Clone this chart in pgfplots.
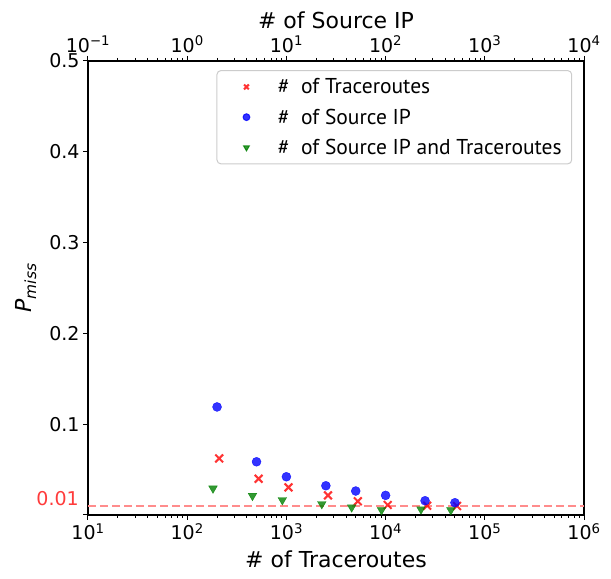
\documentclass[border=0pt]{standalone}
\usepackage{fontspec}
\setmainfont{DejaVu Sans}
\newfontfamily\legfont{PT Sans}
\usepackage{pgfplots}
\pgfplotsset{compat=1.18}

\definecolor{mred}{HTML}{FF0000}
\definecolor{mblue}{HTML}{0000FF}
\definecolor{mgreen}{HTML}{008000}
\definecolor{dashred}{HTML}{FF8C8C}
\definecolor{lblred}{HTML}{FF3B3B}

\newcommand{\ticksize}{\fontsize{19}{22}\selectfont}
\newcommand{\labsize}{\fontsize{22}{26}\selectfont}

\begin{document}
\begin{tikzpicture}
\pgfplotsset{
  every axis/.append style={
    scale only axis, width=496pt, height=454pt,
    axis line style={line width=1.1pt},
    tick align=outside,
    major tick length=5pt, minor tick length=3pt,
    every tick/.style={black, line width=1pt},
    tick label style={font=\ticksize},
    label style={font=\labsize},
  },
  legmark/.style={legend image code/.code={%
    \path (0pt,0pt) (50pt,0pt);
    \draw[mark repeat=2, mark phase=2, ##1, mark size=3.4pt]
      plot coordinates {(0pt,0pt)(21pt,0pt)(50pt,0pt)};}},
}
\begin{axis}[
  xmode=log, xmin=10, xmax=1e6, ymin=0, ymax=0.5,
  xtick={10,100,1000,10000,100000,1000000},
  xticklabels={10\textsuperscript{1},10\textsuperscript{2},10\textsuperscript{3},10\textsuperscript{4},10\textsuperscript{5},10\textsuperscript{6}},
  ytick={0,0.1,0.2,0.3,0.4,0.5},
  yticklabels={,0.1,0.2,0.3,0.4,0.5},
  xtick pos=left, ytick pos=left,
  xlabel={\# of Traceroutes},
  xlabel style={yshift=-4pt},
  ylabel={\textit{P}\textsubscript{\textit{miss}}},
  ylabel shift=6pt,
  legend style={at={(rel axis cs:0.259,0.98)}, anchor=north west,
    draw=black!20, line width=1pt, rounded corners=4pt,
    font=\legfont\fontsize{21.5}{24}\selectfont,
    row sep=9.5pt, inner xsep=8pt, inner ysep=6pt},
  legend cell align=left,
]
\coordinate (bl) at (rel axis cs:0,0);
\coordinate (tr) at (rel axis cs:1,1);
\coordinate (lbl) at (axis cs:10,0.018);

\addplot[dashred, line width=1.3pt, dash pattern=on 8pt off 4pt, forget plot]
  coordinates {(10,0.01)(1000000,0.01)};

\addplot[only marks, legmark, mark=x, mark size=5.5pt, mred, opacity=0.8, mark options={line width=2pt}]
  coordinates {(210,0.0623)(525,0.0399)(1050,0.0304)(2625,0.0216)(5250,0.0151)(10500,0.0110)(26250,0.0102)(52500,0.0099)};
\addlegendentry{\#\ \ of Traceroutes}

\addplot[only marks, legmark, mark=*, mark size=4.5pt, mblue, opacity=0.8, mark options={draw=none}]
  coordinates {(200,0.119)(500,0.0586)(1000,0.0421)(2500,0.0322)(5000,0.0264)(10000,0.0216)(25000,0.0157)(50000,0.0135)};
\addlegendentry{\#\ \ of Source IP}

\addplot[only marks, legmark, mark=triangle*, mark size=5pt, mgreen, opacity=0.8, mark options={draw=none, rotate=180}]
  coordinates {(182,0.0293)(455,0.0212)(910,0.0165)(2275,0.0121)(4550,0.0085)(9100,0.0055)(22750,0.0063)(45500,0.0055)};
\addlegendentry{\#\ \ of Source IP and Traceroutes}
\end{axis}

\begin{axis}[
  xmode=log, xmin=0.1, xmax=10000, ymin=0, ymax=1,
  axis x line*=top, axis y line=none,
  xtick={0.1,1,10,100,1000,10000},
  xticklabels={10\textsuperscript{−1},10\textsuperscript{0},10\textsuperscript{1},10\textsuperscript{2},10\textsuperscript{3},10\textsuperscript{4}},
  xlabel={\# of Source IP},
]
\end{axis}

\node[anchor=east, text=lblred, font=\ticksize, inner sep=0pt, xshift=-9pt] at (lbl) {0.01};

\pgfresetboundingbox
\path[use as bounding box] ([shift={(-88pt,-64pt)}]bl) rectangle ([shift={(27pt,61pt)}]tr);
\end{tikzpicture}
\end{document}
